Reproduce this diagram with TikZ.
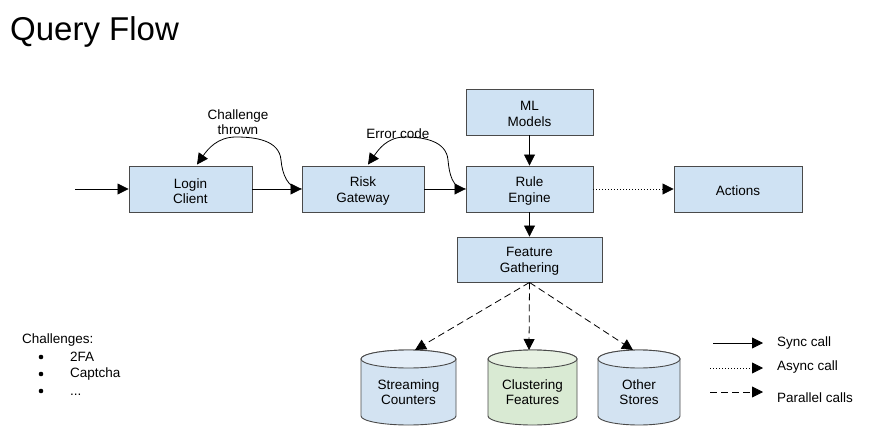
\documentclass[tikz,border=0pt]{standalone}
\usepackage{fontspec}
\setmainfont{Liberation Sans}
\usetikzlibrary{arrows.meta,calc}
\definecolor{boxblue}{HTML}{CFE2F3}
\definecolor{cylblue}{HTML}{D3E3F2}
\definecolor{cyltopblue}{HTML}{E4EEF8}
\definecolor{cylgreen}{HTML}{D9EAD3}
\definecolor{cyltopgreen}{HTML}{E7F1E2}
\definecolor{edge}{HTML}{4A4A4A}
\tikzset{
  box/.style={draw=edge, line width=0.9pt, fill=boxblue, inner sep=0pt,
    label={[lbl, yshift=-2pt]center:{#1}}},
  lbl/.style={align=center, font=\fontsize{13.5}{15.5}\selectfont, inner sep=0pt},
  tip/.style={-{Triangle[length=11pt,width=11pt]}},
  conn/.style={tip, line width=0.8pt, black},
  asyncline/.style={conn, dash pattern=on 1pt off 2pt},
  parline/.style={conn, dash pattern=on 7pt off 4pt},
  cylbody/.style={draw=edge, line width=0.9pt}
}
\newcommand\mycyl[6]{% cx, rx, top y, bottom y, body color, top color
  \filldraw[cylbody, fill=#5] (#1-#2,-#3-9) -- (#1-#2,-#4+9)
    arc[start angle=180,end angle=360,x radius=#2pt,y radius=9pt]
    -- (#1+#2,-#3-9) arc[start angle=0,end angle=180,x radius=#2pt,y radius=9pt] -- cycle;
  \filldraw[cylbody, fill=#6] (#1,-#3-9) ellipse[x radius=#2pt,y radius=9pt];
}
\begin{document}
\begin{tikzpicture}[x=1pt,y=1pt]
\useasboundingbox (0,0) rectangle (873,-439);
\node[anchor=base west, inner sep=0pt, font=\fontsize{33}{38}\selectfont] (title) at (10,-40) {Query Flow};

\node[box={Login\\Client}, minimum width=123pt, minimum height=46pt] (login) at (190.5,-189) {};
\node[box={Risk\\Gateway}, minimum width=122pt, minimum height=46pt] (risk) at (363,-189) {};
\node[box={Rule\\Engine}, minimum width=127pt, minimum height=46pt] (rule) at (529.5,-189) {};
\node[box={ML\\Models}, minimum width=127pt, minimum height=46pt] (ml) at (529.5,-112) {};
\node[box={Actions}, minimum width=128pt, minimum height=46pt] (actions) at (738,-189) {};
\node[box={Feature\\Gathering}, minimum width=145pt, minimum height=45pt] (feature) at (529.5,-259.5) {};

\mycyl{408.5}{47.5}{350}{425}{cylblue}{cyltopblue}
\mycyl{532.5}{44.5}{350}{425}{cylgreen}{cyltopgreen}
\mycyl{639}{41}{350}{425}{cylblue}{cyltopblue}
\node[lbl] (streaming) at (408.5,-392) {Streaming\\Counters};
\node[lbl] (clustering) at (532.5,-392) {Clustering\\Features};
\node[lbl] (other) at (639,-392) {Other\\Stores};
\coordinate (sctop) at (415,-350);
\coordinate (cftop) at (529,-350);
\coordinate (ostop) at (633,-350);

\coordinate (in) at (75,-189);
\draw[conn] (in) -- (login.west);
\draw[conn] (login.east) -- (risk.west);
\draw[conn] (risk.east) -- (rule.west);
\draw[conn] (ml.south) -- (rule.north);
\draw[conn] (rule.south) -- (feature.north);
\draw[asyncline] (rule.east) -- (actions.west);

\draw[conn] (risk.west) to[out=180,in=-85] (281,-160) to[out=95,in=0] (236,-137)
  to[out=180,in=55] ($(login.north)+(6.5,1)$);
\draw[conn] (rule.west) to[out=180,in=-85] (448,-160) to[out=95,in=0] (405,-137)
  to[out=180,in=55] ($(risk.north)+(5,1)$);
\node[lbl] (chal) at (238,-122) {Challenge\\thrown};
\node[lbl] (err) at (398,-134) {Error code};

\draw[parline] (feature.south) -- (sctop);
\draw[parline] (feature.south) -- (cftop);
\draw[parline] (feature.south) -- (ostop);

% legend
\coordinate (l1a) at (713,-343); \coordinate (l1b) at (763,-343);
\coordinate (l2a) at (710,-368); \coordinate (l2b) at (763,-368);
\coordinate (l3a) at (710,-392); \coordinate (l3b) at (763,-392);
\draw[conn] (l1a) -- (l1b);
\draw[asyncline] (l2a) -- (l2b);
\draw[parline] (l3a) -- (l3b);
\node[lbl, anchor=west] (sync) at (777,-343) {Sync call};
\node[lbl, anchor=west] (async) at (777,-367) {Async call};
\node[lbl, anchor=west] (par) at (777,-398) {Parallel calls};

% challenges list
\node[lbl, anchor=west] (chl) at (22,-340) {Challenges:};
\fill (41,-357) circle (2.3pt);
\fill (41,-374) circle (2.3pt);
\fill (41,-391) circle (2.3pt);
\node[lbl, anchor=west] (itema) at (70,-357) {2FA};
\node[lbl, anchor=west] (itemb) at (70,-374) {Captcha};
\node[lbl, anchor=base west] (itemc) at (70,-395) {...};
\end{tikzpicture}
\end{document}
